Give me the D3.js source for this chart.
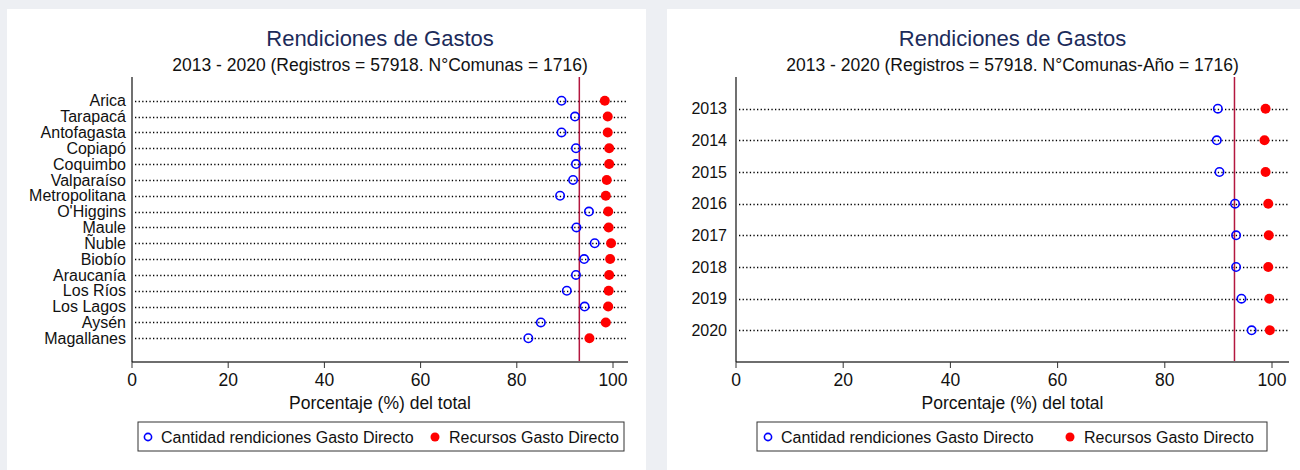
<!DOCTYPE html>
<html>
<head>
<meta charset="utf-8">
<script src="https://cdn.jsdelivr.net/npm/d3@7"></script>
<style>
  body { margin: 0; background: #edeff3; }
  svg { display: block; font-family: "Liberation Sans", Arial, sans-serif; }
</style>
</head>
<body>
<svg id="chart" width="1300" height="470"></svg>
<script>
const regiones = ["Arica", "Tarapacá", "Antofagasta", "Copiapó", "Coquimbo", "Valparaíso",
  "Metropolitana", "O'Higgins", "Maule", "Ñuble", "Biobío", "Araucanía", "Los Ríos",
  "Los Lagos", "Aysén", "Magallanes"];
const cantidadRegion = [89.3, 92.1, 89.3, 92.3, 92.3, 91.7, 89.0, 95.0, 92.4, 96.2, 94.0, 92.3, 90.4, 94.1, 85.0, 82.4];
const recursosRegion = [98.3, 98.9, 98.9, 99.2, 99.2, 98.7, 98.5, 99.0, 99.1, 99.6, 99.4, 99.2, 99.1, 99.0, 98.5, 95.1];

const anios = ["2013", "2014", "2015", "2016", "2017", "2018", "2019", "2020"];
const cantidadAnio = [89.9, 89.7, 90.2, 93.1, 93.3, 93.3, 94.3, 96.2];
const recursosAnio = [98.8, 98.6, 98.8, 99.3, 99.4, 99.3, 99.5, 99.6];

const xTicks = [0, 20, 40, 60, 80, 100];
const refLine = 93;

const titulo = "Rendiciones de Gastos";
const subtitulos = ["2013 - 2020 (Registros = 57918. N°Comunas = 1716)",
  "2013 - 2020 (Registros = 57918. N°Comunas-Año = 1716)"];
const xTitle = "Porcentaje (%) del total";
const legendLabels = ["Cantidad rendiciones Gasto Directo", "Recursos Gasto Directo"];

const svg = d3.select("#chart");

// white panels
svg.append("rect").attr("x", 7).attr("y", 9).attr("width", 639).attr("height", 461).attr("fill", "#fff");
svg.append("rect").attr("x", 667).attr("y", 9).attr("width", 633).attr("height", 461).attr("fill", "#fff");

function drawPanel(opt) {
  const top = 77, bottom = 362;
  const x = d3.scaleLinear().domain([0, 100]).range([opt.x0, opt.x100]);
  const y = d3.scalePoint().domain(opt.cats).range([top, bottom]).padding(opt.pad);
  const g = svg.append("g");
  const mid = (opt.x0 + opt.xEnd) / 2;

  g.append("text").attr("x", mid).attr("y", 46).attr("text-anchor", "middle")
    .attr("font-size", 22).attr("fill", "#1c2b5a").text(titulo);
  g.append("text").attr("x", mid).attr("y", 71).attr("text-anchor", "middle")
    .attr("font-size", 17.5).attr("fill", "#111").text(opt.sub);

  // dotted guide lines
  g.selectAll(".guide").data(opt.cats).enter().append("line")
    .attr("x1", opt.x0 + 3).attr("x2", opt.xEnd)
    .attr("y1", (d) => Math.round(y(d)) + 0.5).attr("y2", (d) => Math.round(y(d)) + 0.5)
    .attr("stroke", "#000").attr("stroke-width", 1.4)
    .attr("stroke-dasharray", "1.3,2.3");

  // y labels
  g.selectAll(".ylab").data(opt.cats).enter().append("text")
    .attr("x", opt.x0 - opt.labGap).attr("y", (d) => y(d)).attr("dy", "0.35em")
    .attr("text-anchor", "end").attr("font-size", 16).attr("fill", "#111").text((d) => d);

  // reference line
  g.append("line").attr("x1", x(refLine)).attr("x2", x(refLine))
    .attr("y1", top).attr("y2", bottom)
    .attr("stroke", "#b3173f").attr("stroke-width", 1.5);

  // x axis
  const xAxis = g.append("g").attr("transform", "translate(0," + bottom + ")");
  xAxis.append("line").attr("x1", opt.x0).attr("x2", opt.xEnd)
    .attr("stroke", "#6e6e6e").attr("stroke-width", 2);
  xAxis.selectAll(".tk").data(xTicks).enter().append("line")
    .attr("x1", (d) => x(d)).attr("x2", (d) => x(d)).attr("y1", 0).attr("y2", 6)
    .attr("stroke", "#333").attr("stroke-width", 1);
  xAxis.selectAll(".tl").data(xTicks).enter().append("text")
    .attr("x", (d) => x(d)).attr("y", 24).attr("text-anchor", "middle")
    .attr("font-size", 17.5).attr("fill", "#111").text((d) => d);
  g.append("text").attr("x", mid).attr("y", 409).attr("text-anchor", "middle")
    .attr("font-size", 17.5).attr("fill", "#111").text(xTitle);

  // y axis line
  g.append("line").attr("x1", opt.x0).attr("x2", opt.x0).attr("y1", top).attr("y2", bottom)
    .attr("stroke", "#111").attr("stroke-width", 1.2);

  // markers
  g.selectAll(".rec").data(opt.cats).enter().append("circle")
    .attr("cx", (d, i) => x(opt.rec[i])).attr("cy", (d) => y(d)).attr("r", 5)
    .attr("fill", "#ff0000");
  g.selectAll(".cant").data(opt.cats).enter().append("circle")
    .attr("cx", (d, i) => x(opt.cant[i])).attr("cy", (d) => y(d)).attr("r", 4.2)
    .attr("fill", "none").attr("stroke", "#0000ff").attr("stroke-width", 1.6);

  // legend
  const lg = g.append("g");
  lg.append("rect").attr("x", opt.lx0).attr("y", 422).attr("width", opt.lx1 - opt.lx0).attr("height", 29)
    .attr("fill", "#fff").attr("stroke", "#333").attr("stroke-width", 1);
  lg.append("circle").attr("cx", opt.lc1).attr("cy", 437).attr("r", 3.6)
    .attr("fill", "none").attr("stroke", "#0000ff").attr("stroke-width", 1.6);
  lg.append("text").attr("x", opt.lc1 + 13).attr("y", 437).attr("dy", "0.35em")
    .attr("font-size", 16).attr("fill", "#111").text(legendLabels[0]);
  lg.append("circle").attr("cx", opt.lc2).attr("cy", 437).attr("r", 4.5).attr("fill", "#ff0000");
  lg.append("text").attr("x", opt.lc2 + 14).attr("y", 437).attr("dy", "0.35em")
    .attr("font-size", 16).attr("fill", "#111").text(legendLabels[1]);
}

drawPanel({
  cats: regiones, cant: cantidadRegion, rec: recursosRegion, pad: 1.5,
  x0: 132, x100: 613, xEnd: 628, labGap: 6, sub: subtitulos[0],
  lx0: 138, lx1: 624, lc1: 148, lc2: 435
});

drawPanel({
  cats: anios, cant: cantidadAnio, rec: recursosAnio, pad: 1,
  x0: 736, x100: 1272, xEnd: 1289, labGap: 9, sub: subtitulos[1],
  lx0: 757, lx1: 1267, lc1: 768, lc2: 1070
});
</script>
</body>
</html>
